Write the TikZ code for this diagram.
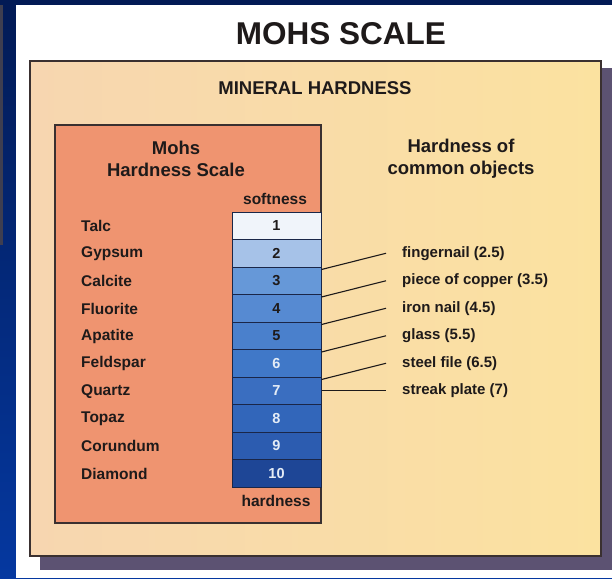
\documentclass[tikz,border=0pt]{standalone}
\usepackage{fontspec}
\setmainfont{Liberation Sans}
\definecolor{navyT}{HTML}{021A55}
\definecolor{navyB}{HTML}{0538A0}
\definecolor{stripc}{HTML}{3E3E50}
\definecolor{creamL}{HTML}{F7D6B0}
\definecolor{creamR}{HTML}{FBE2A0}
\definecolor{salmon}{HTML}{EF9470}
\definecolor{shad}{HTML}{5C5272}
\definecolor{ink}{HTML}{1E1A1A}
\definecolor{frame}{HTML}{3A3030}
\definecolor{rowline}{HTML}{1A2648}
\definecolor{numlight}{HTML}{E4ECF6}
\definecolor{sA}{HTML}{F0F4FA}
\definecolor{sB}{HTML}{A6C2E8}
\definecolor{sC}{HTML}{6698D8}
\definecolor{sD}{HTML}{568AD2}
\definecolor{sE}{HTML}{4A80CC}
\definecolor{sF}{HTML}{4078C8}
\definecolor{sG}{HTML}{3A6EC0}
\definecolor{sH}{HTML}{3266BA}
\definecolor{sI}{HTML}{2C5CB0}
\definecolor{sJ}{HTML}{1E4696}
\tikzset{
  rowbox/.style={draw=rowline, line width=1pt, minimum width=89pt, minimum height=27.5pt, inner sep=0pt, font=\fontsize{14.5}{16}\selectfont\bfseries},
  mineral/.style={anchor=west, inner sep=0pt, text=ink, font=\fontsize{15.5}{17}\selectfont\bfseries},
  objlabel/.style={anchor=west, inner ysep=0pt, inner xsep=16pt, text=ink, font=\fontsize{15}{17}\selectfont\bfseries},
  conn/.style={draw=ink, line width=1.1pt},
  heading/.style={align=center, text=ink, font=\fontsize{18.5}{22}\selectfont\bfseries},
  small/.style={text=ink, font=\fontsize{15.5}{17}\selectfont\bfseries}
}
\begin{document}
\begin{tikzpicture}[x=1pt,y=-1pt]
\useasboundingbox (0,0) rectangle (612,578);
% background
\shade[top color=navyT, bottom color=navyB] (0,0) rectangle (612,578);
\fill[stripc] (0,5) rectangle (3,245);
\fill[white] (16,5) rectangle (612,578);
% title
\node[text=ink, font=\fontsize{31.5}{34}\selectfont\bfseries] (title) at (341,34) {MOHS SCALE};
% outer box with shadow
\fill[shad] (40,68) rectangle (612,570);
\shade[left color=creamL, right color=creamR] (30,61) rectangle (601,556);
\draw[frame, line width=1.6pt] (30,61) rectangle (601,556);
\node[text=ink, font=\fontsize{18.5}{20}\selectfont\bfseries] (mh) at (315,88) {MINERAL HARDNESS};
% inner salmon box
\fill[salmon] (55,125) rectangle (321,523);
\draw[frame, line width=1.3pt] (55,125) rectangle (321,523);
\node[heading] (mohs) at (176,159) {Mohs\\Hardness Scale};
\node[heading] (common) at (461,159) {Hardness of\\common objects};
\node[small] (soft) at (275,199) {softness};
\node[small] (hard) at (276,501) {hardness};
% scale rows
\foreach \i/\c/\t in {1/sA/ink,2/sB/ink,3/sC/ink,4/sD/ink,5/sE/ink,6/sF/numlight,7/sG/numlight,8/sH/numlight,9/sI/numlight,10/sJ/numlight}{
  \node[rowbox, fill=\c, text=\t] (r\i) at (276.5,198.25+27.5*\i) {\i};
}
% minerals
\foreach \i/\m in {1/Talc,2/Gypsum,3/Calcite,4/Fluorite,5/Apatite,6/Feldspar,7/Quartz,8/Topaz,9/Corundum,10/Diamond}{
  \node[mineral] (m\i) at (81,198.75+27.5*\i) {\m};
}
% object labels
\foreach \k/\o in {2/fingernail (2.5),3/piece of copper (3.5),4/iron nail (4.5),5/glass (5.5),6/steel file (6.5),7/streak plate (7)}{
  \node[objlabel] (o\k) at (386,198.25+27.5*\k) {\o};
}
\foreach \k in {2,3,4,5,6}{
  \draw[conn] ([yshift=-2pt]r\k.south east) -- (o\k.west);
}
\draw[conn] (r7.east) -- (o7.west);
\end{tikzpicture}
\end{document}
